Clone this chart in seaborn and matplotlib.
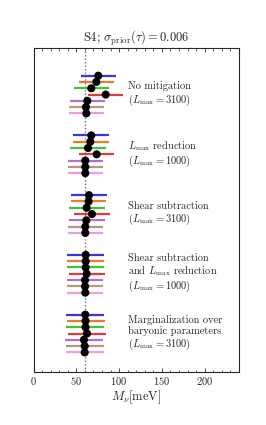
import numpy as np
import pandas as pd
import matplotlib
matplotlib.use("Agg")
import matplotlib.pyplot as plt
import seaborn as sns

groups = [
    "No mitigation\n($L_{\\rm max} = 3100$)",
    "$L_{\\rm max}$ reduction\n($L_{\\rm max} = 1000$)",
    "Shear subtraction\n($L_{\\rm max} = 3100$)",
    "Shear subtraction\nand $L_{\\rm max}$ reduction\n($L_{\\rm max} = 1000$)",
    "Marginalization over\nbaryonic parameters\n($L_{\\rm max} = 3100$)",
]
series = ["s1", "s2", "s3", "s4", "s5", "s6", "s7"]
colors = ["#3636e8", "#ee7a2a", "#3ec43e", "#e03c3c", "#b96cc8", "#b8987c", "#ee9ee0"]

center = [
    [75.7, 73.4, 67.5, 84.3, 62.9, 61.3, 61.7],
    [67.5, 66.4, 63.7, 73.8, 60.5, 60.5, 60.5],
    [64.8, 64.4, 62.1, 68.3, 61.7, 60.5, 60.5],
    [61.0, 61.0, 61.0, 62.1, 60.2, 60.2, 60.5],
    [60.5, 60.8, 60.8, 62.5, 59.0, 59.8, 59.8],
]
low = [
    [55.1, 52.8, 47.3, 63.3, 42.3, 41.1, 41.5],
    [46.5, 45.8, 42.6, 53.2, 39.9, 39.9, 39.9],
    [43.8, 43.8, 41.5, 47.7, 41.5, 39.9, 39.9],
    [39.5, 39.5, 39.5, 41.1, 39.5, 38.8, 39.5],
    [38.0, 38.8, 38.0, 40.3, 36.8, 38.0, 37.6],
]
high = [
    [96.4, 93.7, 88.2, 104.2, 83.9, 82.0, 82.4],
    [88.2, 87.8, 84.7, 94.4, 81.5, 81.1, 81.5],
    [85.9, 85.0, 83.2, 89.0, 83.0, 81.1, 81.5],
    [82.0, 82.0, 82.0, 83.5, 81.5, 81.5, 81.5],
    [82.7, 83.1, 82.7, 84.7, 81.2, 82.3, 82.3],
]
fiducial = 60.0

sns.set_style("ticks")
plt.rcParams["font.family"] = ["serif"]
plt.rcParams["font.serif"] = ["cmr10", "DejaVu Serif"]
plt.rcParams["mathtext.fontset"] = "cm"
plt.rcParams["axes.formatter.use_mathtext"] = True

rows = []
for g in range(len(groups)):
    for j, s in enumerate(series):
        rows.append(dict(group=g, series=s, y=g * 9.5 + j,
                         c=center[g][j], lo=low[g][j], hi=high[g][j]))
df = pd.DataFrame(rows)

fig = plt.figure(figsize=(2.66, 4.25), dpi=100)
ax = fig.add_axes([0.126, 0.125, 0.772, 0.762])

for j, s in enumerate(series):
    sub = df[df.series == s]
    ax.hlines(sub.y, sub.lo, sub.hi, color=colors[j], lw=1.6, zorder=2)
sns.scatterplot(data=df, x="c", y="y", color="black", s=34, edgecolor="none",
                ax=ax, zorder=3, legend=False)

ax.axvline(fiducial, color="0.45", ls=(0, (1, 1.5)), lw=1.0, zorder=1)

for g, label in enumerate(groups):
    ax.text(110, g * 9.5 + 3, label, fontsize=7.5, va="center", ha="left",
            linespacing=1.12)

ax.set_xlim(0, 240)
ax.set_ylim(47.1, -4.4)
ax.set_yticks([])
ax.set_xticks([0, 50, 100, 150, 200])
ax.xaxis.set_minor_locator(matplotlib.ticker.MultipleLocator(10))
ax.tick_params(axis="x", which="both", direction="in", top=True, bottom=True,
               labelsize=7.5, pad=2)
ax.tick_params(axis="x", which="major", length=3, width=0.6)
ax.tick_params(axis="x", which="minor", length=1.8, width=0.5)
for sp in ax.spines.values():
    sp.set_visible(True)
    sp.set_linewidth(0.8)
ax.set_xlabel("$M_\\nu [{\\rm meV}]$", fontsize=9, labelpad=1)
ax.set_ylabel("")
ax.set_title("S4; $\\sigma_{\\rm prior}(\\tau) = 0.006$", fontsize=9, pad=4)

fig.savefig("out.png", dpi=100)
